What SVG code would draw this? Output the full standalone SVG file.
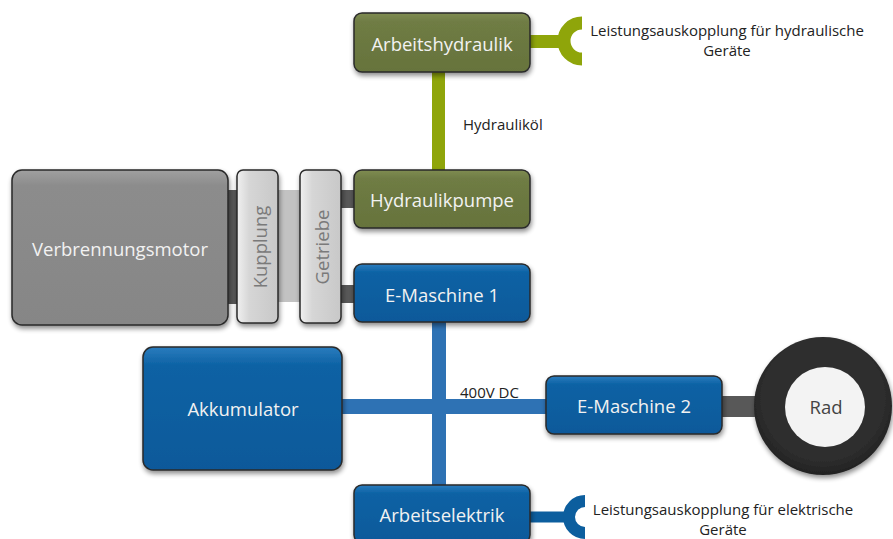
<svg xmlns="http://www.w3.org/2000/svg" width="893" height="539" viewBox="0 0 893 539">
<defs>
  <linearGradient id="gOlive" x1="0" y1="0" x2="0" y2="1">
    <stop offset="0" stop-color="#7f8c52"/>
    <stop offset="0.15" stop-color="#6f7c44"/>
    <stop offset="1" stop-color="#66733c"/>
  </linearGradient>
  <linearGradient id="gBlue" x1="0" y1="0" x2="0" y2="1">
    <stop offset="0" stop-color="#2a7cbe"/>
    <stop offset="0.15" stop-color="#0d62a4"/>
    <stop offset="1" stop-color="#08599a"/>
  </linearGradient>
  <linearGradient id="gGrey" x1="0" y1="0" x2="0" y2="1">
    <stop offset="0" stop-color="#a0a0a0"/>
    <stop offset="0.1" stop-color="#8c8c8c"/>
    <stop offset="1" stop-color="#868686"/>
  </linearGradient>
  <linearGradient id="gLight" x1="0" y1="0" x2="1" y2="0">
    <stop offset="0" stop-color="#f0f0f0"/>
    <stop offset="0.3" stop-color="#d6d6d6"/>
    <stop offset="1" stop-color="#c8c8c8"/>
  </linearGradient>
  <radialGradient id="gTire" cx="0.5" cy="0.45" r="0.55">
    <stop offset="0.8" stop-color="#2e2e2e"/>
    <stop offset="1" stop-color="#222"/>
  </radialGradient>
  <filter id="sh" x="-20%" y="-20%" width="140%" height="150%">
    <feGaussianBlur in="SourceAlpha" stdDeviation="2.5"/>
    <feOffset dx="1" dy="3" result="b"/>
    <feComponentTransfer><feFuncA type="linear" slope="0.45"/></feComponentTransfer>
    <feMerge><feMergeNode/><feMergeNode in="SourceGraphic"/></feMerge>
  </filter>
</defs>
<style>
  .box { stroke: #2a2a2a; stroke-width: 1.5; filter: url(#sh); }
  .olive { fill: url(#gOlive); }
  .blue { fill: url(#gBlue); }
  .lbl { font-family: "Open Sans", "Noto Sans", sans-serif; font-size: 18.5px; fill: #f2f2f2; text-anchor: middle; dominant-baseline: central; }
  .vlbl { font-family: "Open Sans", "Noto Sans", sans-serif; font-size: 18.5px; fill: #7a7a7a; text-anchor: middle; dominant-baseline: central; }
  .note { font-family: "Open Sans", "Noto Sans", sans-serif; font-size: 15px; fill: #222; }
  .hyd { stroke: #8fa50a; fill: none; }
  .elec { stroke: #2e72b4; fill: none; }
  .elecd { stroke: #0c5e9e; fill: none; }
  .shaft { fill: #585858; }
</style>

<g id="connectors">
  <!-- mechanical shafts -->
  <rect class="shaft" x="226" y="190" width="13" height="114"/>
  <rect x="276" y="190" width="26" height="112" fill="#c2c2c2"/>
  <rect class="shaft" x="340" y="190" width="16" height="18"/>
  <rect class="shaft" x="340" y="285" width="16" height="18"/>
  <rect class="shaft" x="720" y="396" width="40" height="21"/>
  <!-- hydraulic -->
  <line class="hyd" x1="438.5" y1="72" x2="438.5" y2="170" stroke-width="13"/>
  <line class="hyd" x1="530" y1="41.5" x2="568" y2="41.5" stroke-width="13"/>
  <path class="hyd" d="M582 23 A18 18 0 0 0 582 59" stroke-width="13"/>
  <!-- electric bus -->
  <line class="elec" x1="439" y1="322" x2="439" y2="486" stroke-width="14"/>
  <line class="elec" x1="342" y1="406.5" x2="547" y2="406.5" stroke-width="15"/>
  <line class="elecd" x1="530" y1="517" x2="570" y2="517" stroke-width="11"/>
  <path class="elecd" d="M585 501 A16 16 0 0 0 585 533" stroke-width="12"/>
</g>

<g id="verbrennungsmotor">
  <rect class="box" x="12" y="170" width="216" height="155" rx="10" fill="url(#gGrey)"/>
  <text class="lbl" x="120" y="248">Verbrennungsmotor</text>
</g>
<g id="kupplung">
  <rect class="box" x="237" y="170" width="41" height="153" rx="6" fill="url(#gLight)"/>
  <text class="vlbl" transform="translate(259 247) rotate(-90)">Kupplung</text>
</g>
<g id="getriebe">
  <rect class="box" x="300" y="170" width="41" height="153" rx="6" fill="url(#gLight)"/>
  <text class="vlbl" transform="translate(321 247) rotate(-90)">Getriebe</text>
</g>
<g id="arbeitshydraulik">
  <rect class="box olive" x="354" y="13" width="176" height="59" rx="8"/>
  <text class="lbl" x="442" y="43">Arbeitshydraulik</text>
</g>
<g id="hydraulikpumpe">
  <rect class="box olive" x="354" y="170" width="176" height="58" rx="8"/>
  <text class="lbl" x="442" y="199">Hydraulikpumpe</text>
</g>
<g id="emaschine1">
  <rect class="box blue" x="354" y="264" width="176" height="58" rx="8"/>
  <text class="lbl" x="442" y="294">E-Maschine 1</text>
</g>
<g id="akkumulator">
  <rect class="box blue" x="143" y="347" width="199" height="123" rx="10"/>
  <text class="lbl" x="243" y="408">Akkumulator</text>
</g>
<g id="emaschine2">
  <rect class="box blue" x="546" y="376" width="176" height="58" rx="8"/>
  <text class="lbl" x="634" y="405">E-Maschine 2</text>
</g>
<g id="arbeitselektrik">
  <rect class="box blue" x="354" y="485" width="176" height="58" rx="8"/>
  <text class="lbl" x="442" y="514">Arbeitselektrik</text>
</g>
<g id="rad">
  <circle cx="823" cy="406" r="69" fill="url(#gTire)" filter="url(#sh)"/>
  <circle cx="825" cy="407" r="40" fill="#f3f3f3"/>
  <text class="lbl" x="826" y="406" style="fill:#444">Rad</text>
</g>

<g id="labels">
  <text class="note" x="463" y="130">Hydrauliköl</text>
  <text class="note" x="460" y="398">400V DC</text>
  <text class="note" x="727" y="36" text-anchor="middle">Leistungsauskopplung für hydraulische</text>
  <text class="note" x="727" y="56" text-anchor="middle">Geräte</text>
  <text class="note" x="723" y="515" text-anchor="middle">Leistungsauskopplung für elektrische</text>
  <text class="note" x="723" y="535" text-anchor="middle">Geräte</text>
</g>
</svg>
